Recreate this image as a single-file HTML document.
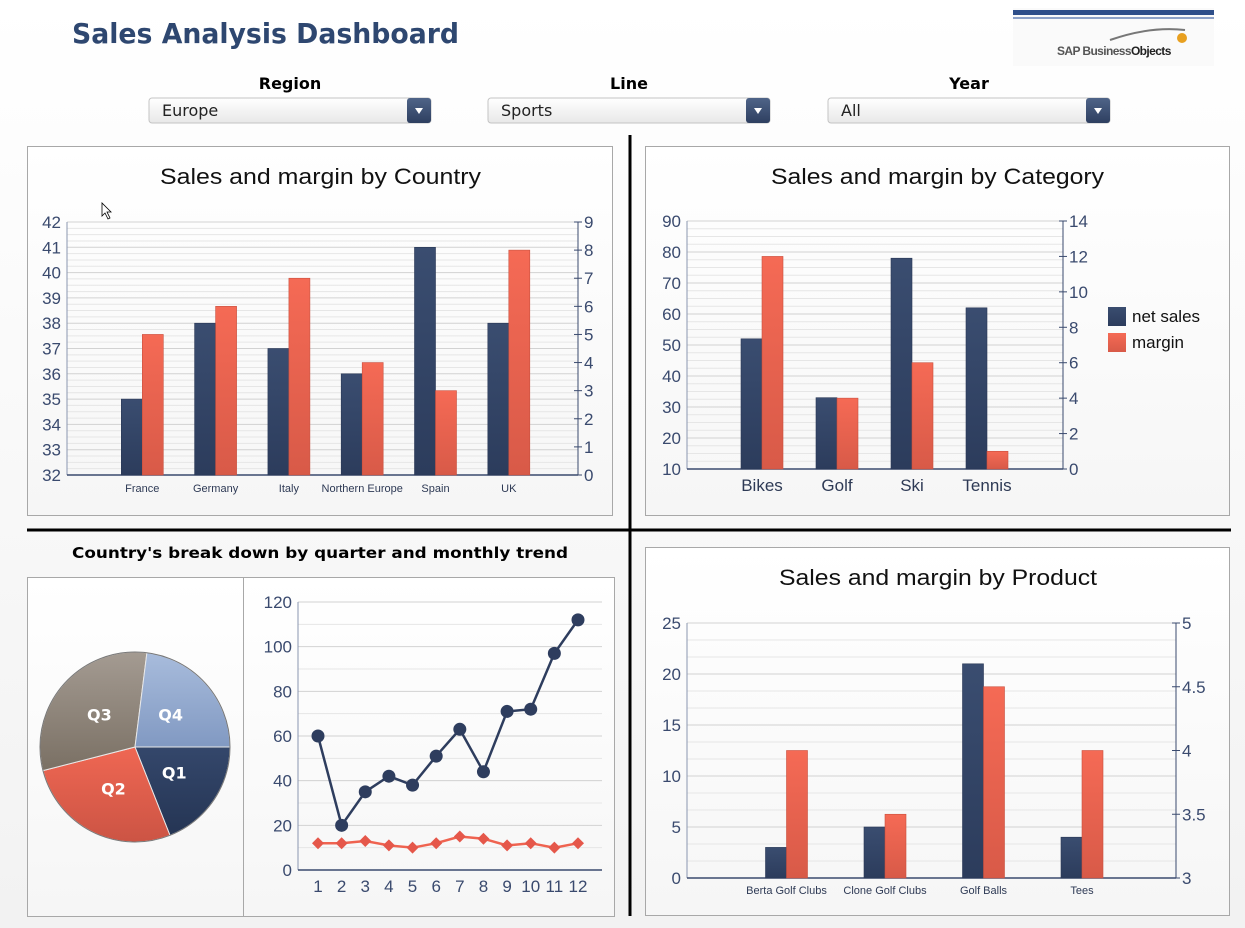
<!DOCTYPE html>
<html><head><meta charset="utf-8">
<style>
html,body{margin:0;padding:0;width:1245px;height:928px;overflow:hidden;background:#f5f5f5;}
svg{display:block;font-family:"Liberation Sans","DejaVu Sans",sans-serif;}
</style></head>
<body>
<svg id="dash" width="1245" height="928" viewBox="0 0 1245 928">
<defs>
<linearGradient id="bg" x1="0" y1="0" x2="0" y2="1"><stop offset="0" stop-color="#ffffff"/><stop offset="1" stop-color="#f2f2f2"/></linearGradient>
<linearGradient id="panel" x1="0" y1="0" x2="0" y2="1"><stop offset="0" stop-color="#ffffff"/><stop offset="1" stop-color="#f6f6f6"/></linearGradient>
<linearGradient id="navy" x1="0" y1="0" x2="0" y2="1"><stop offset="0" stop-color="#3a4d70"/><stop offset="1" stop-color="#2c3c5c"/></linearGradient>
<linearGradient id="red" x1="0" y1="0" x2="0" y2="1"><stop offset="0" stop-color="#f56a55"/><stop offset="1" stop-color="#d85a48"/></linearGradient>
<linearGradient id="dd" x1="0" y1="0" x2="0" y2="1"><stop offset="0" stop-color="#ffffff"/><stop offset="1" stop-color="#e8e8e8"/></linearGradient>
<linearGradient id="ddb" x1="0" y1="0" x2="0" y2="1"><stop offset="0" stop-color="#4f6488"/><stop offset="1" stop-color="#2e3f60"/></linearGradient>
<linearGradient id="pq1" x1="0" y1="0" x2="0" y2="1"><stop offset="0" stop-color="#34476b"/><stop offset="1" stop-color="#253554"/></linearGradient>
<linearGradient id="pq2" x1="0" y1="0" x2="0" y2="1"><stop offset="0" stop-color="#ef6753"/><stop offset="1" stop-color="#cc5444"/></linearGradient>
<linearGradient id="pq3" x1="0" y1="0" x2="0" y2="1"><stop offset="0" stop-color="#a49b92"/><stop offset="1" stop-color="#7a7064"/></linearGradient>
<linearGradient id="pq4" x1="0" y1="0" x2="0" y2="1"><stop offset="0" stop-color="#a8bcdc"/><stop offset="1" stop-color="#8199c2"/></linearGradient>
</defs>
<rect x="0" y="0" width="1245" height="928" fill="url(#bg)"/>
<text x="72" y="43" font-size="28" font-weight="bold" fill="#2e4770" textLength="387" lengthAdjust="spacingAndGlyphs" style="font-family:'DejaVu Sans',sans-serif">Sales Analysis Dashboard</text>
<g>
<rect x="1013" y="8" width="201" height="58" fill="#fafafa"/>
<rect x="1013" y="10" width="201" height="5" fill="#2f4f8a"/>
<rect x="1013" y="17" width="201" height="2" fill="#8ea2c8"/>
<path d="M1110 40 Q1150 26 1185 30" stroke="#777" stroke-width="2" fill="none"/>
<circle cx="1182" cy="38" r="5" fill="#e8a020"/>
<text x="1057" y="55" font-size="12" font-weight="bold" fill="#555" letter-spacing="-0.6">SAP Business<tspan fill="#222">Objects</tspan></text>
</g>
<g id="filters"></g>
<g id="panels"></g>
<line x1="630" y1="135" x2="630" y2="916" stroke="#000" stroke-width="3"/>
<line x1="27" y1="530" x2="1231" y2="530" stroke="#000" stroke-width="3"/>
<text x="72" y="558" font-size="15" font-weight="bold" fill="#000" textLength="496" lengthAdjust="spacingAndGlyphs" style="font-family:'DejaVu Sans',sans-serif">Country's break down by quarter and monthly trend</text>
<g id="c1"></g><g id="c2"></g><g id="c3"></g><g id="pie"></g><g id="line"></g>
<path d="M102 203 L102 216 L105 213 L108 219 L110 218 L107 212 L111 212 Z" fill="#fff" stroke="#000" stroke-width="0.8"/>
</svg>
<script>
// ===== DATA =====
const countryCats = ["France","Germany","Italy","Northern Europe","Spain","UK"];
const countrySales = [35,38,37,36,41,38];
const countryMargin = [5,6,7,4,3,8];
const countryLeftTicks = [32,33,34,35,36,37,38,39,40,41,42];
const countryRightTicks = [0,1,2,3,4,5,6,7,8,9];

const categoryCats = ["Bikes","Golf","Ski","Tennis"];
const categorySales = [52,33,78,62];
const categoryMargin = [12,4,6,1];
const categoryLeftTicks = [10,20,30,40,50,60,70,80,90];
const categoryRightTicks = [0,2,4,6,8,10,12,14];

const productCats = ["Berta Golf Clubs","Clone Golf Clubs","Golf Balls","Tees"];
const productSales = [3,5,21,4];
const productMargin = [4,3.5,4.5,4];
const productLeftTicks = [0,5,10,15,20,25];
const productRightTicks = [3,3.5,4,4.5,5];

const quarterLabels = ["Q1","Q2","Q3","Q4"];
const quarterValues = [19,27,31,23];

const months = [1,2,3,4,5,6,7,8,9,10,11,12];
const monthlySales = [60,20,35,42,38,51,63,44,71,72,97,112];
const monthlyMargin = [12,12,13,11,10,12,15,14,11,12,10,12];
const monthlyTicks = [0,20,40,60,80,100,120];

// ===== HELPERS =====
const NS="http://www.w3.org/2000/svg";
function mk(parent,tag,attrs,text){const e=document.createElementNS(NS,tag);for(const k in attrs)e.setAttribute(k,attrs[k]);if(text!==undefined)e.textContent=text;parent.appendChild(e);return e;}
const AX="#3a4a6e";

// filters
const filters=[{label:"Region",value:"Europe",x:149},{label:"Line",value:"Sports",x:488},{label:"Year",value:"All",x:828}];
const fg=document.getElementById('filters');
filters.forEach(f=>{
  const g=mk(fg,'g',{});
  
  
  const l=mk(g,'text',{x:f.x+141,y:89,'font-size':16,'font-weight':'bold','text-anchor':'middle',fill:'#000',style:"font-family:'DejaVu Sans',sans-serif"},f.label);
  
  
  mk(g,'rect',{x:f.x,y:98,width:282,height:25,rx:3,fill:'url(#dd)',stroke:'#c4c4c4'});
  mk(g,'text',{x:f.x+13,y:116,'font-size':16,fill:'#222',style:"font-family:'DejaVu Sans',sans-serif"},f.value);
  const b=mk(g,'rect',{x:f.x+258,y:98,width:24,height:25,rx:3,fill:'url(#ddb)'});
  
  
  mk(g,'path',{d:`M${f.x+266} ${108} L${f.x+274} 108 L${f.x+270} 114 Z`,fill:'#fff'});
});

// panels
const pg=document.getElementById('panels');
[[27,146,585,369,'country-panel'],[645,146,584,369,'category-panel'],[645,547,584,368,'product-panel'],[27,577,216,339,'pie-panel'],[243,577,371,339,'trend-panel']].forEach(p=>{
  const r=mk(pg,'rect',{x:p[0]+0.5,y:p[1]+0.5,width:p[2],height:p[3],fill:'url(#panel)',stroke:'#a8a8a8'});
  
  
});

function barChart(gid,o){
  const g=document.getElementById(gid);
  const yL=v=>o.bottom-(v-o.lmin)/(o.lmax-o.lmin)*(o.bottom-o.top);
  const yR=v=>o.bottom-(v-o.rmin)/(o.rmax-o.rmin)*(o.bottom-o.top);
  const xC=i=>o.x0+(i+1)*o.step;
  const t=mk(g,'text',{x:o.titleX,y:o.titleY,'font-size':22,fill:'#111',textLength:o.titleW,lengthAdjust:'spacingAndGlyphs'},o.title);
  
  
  const nL=o.lt.length-1;
  for(let k=0;k<nL*o.sub;k++){
    const v=o.lmin+(o.lmax-o.lmin)*k/(nL*o.sub);
    mk(g,'line',{x1:o.left,x2:o.right,y1:yL(v),y2:yL(v),stroke:k%o.sub==0?'#d2d2d2':'#e6e6e6','stroke-width':1});
  }
  mk(g,'line',{x1:o.left,x2:o.right,y1:o.top,y2:o.top,stroke:'#d2d2d2'});
  mk(g,'line',{x1:o.left,x2:o.left,y1:o.top,y2:o.bottom,stroke:'#8a96b0'});
  o.lt.forEach(v=>{const e=mk(g,'text',{x:o.left-6,y:yL(v)+6,'font-size':o.tfs,'text-anchor':'end',fill:AX},v);
    
    });
  mk(g,'line',{x1:o.right,x2:o.right,y1:o.top,y2:o.bottom,stroke:AX});
  o.rt.forEach(v=>{mk(g,'line',{x1:o.right-4,x2:o.right+4,y1:yR(v),y2:yR(v),stroke:AX});
    const e=mk(g,'text',{x:o.right+6,y:yR(v)+6,'font-size':o.tfs,fill:AX},v);
    
    });
  mk(g,'line',{x1:o.left,x2:o.right,y1:o.bottom,y2:o.bottom,stroke:AX,'stroke-width':1.5});
  o.cats.forEach((c,i)=>{
    const cx=xC(i);
    const b1=mk(g,'rect',{x:cx-o.bw,y:yL(o.s[i]),width:o.bw,height:o.bottom-yL(o.s[i]),fill:'url(#navy)',stroke:'#2a3856','stroke-width':0.6});
    
    
    const b2=mk(g,'rect',{x:cx,y:yR(o.m[i]),width:o.bw,height:o.bottom-yR(o.m[i]),fill:'url(#red)',stroke:'#c9503f','stroke-width':0.6});
    
    
    const l=mk(g,'text',{x:cx,y:o.bottom+o.cdy,'font-size':o.cfs,'text-anchor':'middle',fill:'#2e3a55'},c);
    
    
  });
}
barChart('c1',{title:"Sales and margin by Country",titleX:160,titleW:321,titleY:184,left:67,right:578,top:222,bottom:475,
  lmin:32,lmax:42,rmin:0,rmax:9,lt:countryLeftTicks,rt:countryRightTicks,sub:4,x0:69,step:73.3,bw:21,
  cats:countryCats,s:countrySales,m:countryMargin,tfs:17,cfs:11,cdy:17});
barChart('c2',{title:"Sales and margin by Category",titleX:771,titleW:333,titleY:184,left:687,right:1063,top:221,bottom:469,
  lmin:10,lmax:90,rmin:0,rmax:14,lt:categoryLeftTicks,rt:categoryRightTicks,sub:4,x0:687,step:75,bw:21,
  cats:categoryCats,s:categorySales,m:categoryMargin,tfs:17,cfs:17,cdy:22});
barChart('c3',{title:"Sales and margin by Product",titleX:779,titleW:318,titleY:585,left:687,right:1176,top:623,bottom:878,
  lmin:0,lmax:25,rmin:3,rmax:5,lt:productLeftTicks,rt:productRightTicks,sub:3,x0:688,step:98.5,bw:21,
  cats:productCats,s:productSales,m:productMargin,tfs:17,cfs:11,cdy:16});

const lg=document.getElementById('c2');
[["net sales","url(#navy)"],["margin","url(#red)"]].forEach((e,i)=>{
  const g=mk(lg,'g',{});
  
  
  mk(g,'rect',{x:1108,y:307+i*26,width:18,height:19,fill:e[1]});
  mk(g,'text',{x:1132,y:322+i*26,'font-size':17,fill:'#111'},e[0]);
});

// pie
const pgp=document.getElementById('pie');
const pcx=135,pcy=747,pr=95,total=quarterValues.reduce((a,b)=>a+b,0);
let a0=0;
const fills=['url(#pq1)','url(#pq2)','url(#pq3)','url(#pq4)'];
quarterValues.forEach((v,i)=>{
  const a1=a0+v/total*2*Math.PI;
  const x0=pcx+pr*Math.cos(a0),y0=pcy+pr*Math.sin(a0),x1=pcx+pr*Math.cos(a1),y1=pcy+pr*Math.sin(a1);
  const s=mk(pgp,'path',{d:`M${pcx} ${pcy} L${x0} ${y0} A${pr} ${pr} 0 ${a1-a0>Math.PI?1:0} 1 ${x1} ${y1} Z`,fill:fills[i],stroke:'#e8e8e8','stroke-width':1});
  
  
  const am=(a0+a1)/2;
  const t=mk(pgp,'text',{x:pcx+pr*0.5*Math.cos(am),y:pcy+pr*0.5*Math.sin(am)+5,'font-size':16,'font-weight':'bold','text-anchor':'middle',fill:'#fff',style:"font-family:'DejaVu Sans',sans-serif"},quarterLabels[i]);
  
  
  a0=a1;
});
mk(pgp,'circle',{cx:pcx,cy:pcy,r:pr,fill:'none',stroke:'#777','stroke-width':1});

// line chart
const lgp=document.getElementById('line');
const Lleft=298,Lright=602,Ltop=602,Lbot=870;
const ly=v=>Lbot-v/120*(Lbot-Ltop);
const lx=i=>318+(i)*(578-318)/11;
for(let k=0;k<12;k++){const v=k*10;mk(lgp,'line',{x1:Lleft,x2:Lright,y1:ly(v),y2:ly(v),stroke:k%2==0?'#d2d2d2':'#e6e6e6'});}
mk(lgp,'line',{x1:Lleft,x2:Lright,y1:ly(120),y2:ly(120),stroke:'#d2d2d2'});
mk(lgp,'line',{x1:Lleft,x2:Lleft,y1:Ltop,y2:Lbot,stroke:'#8a96b0'});
mk(lgp,'line',{x1:Lleft,x2:Lright,y1:Lbot,y2:Lbot,stroke:AX,'stroke-width':1.5});
monthlyTicks.forEach(v=>{const e=mk(lgp,'text',{x:Lleft-6,y:ly(v)+6,'font-size':17,'text-anchor':'end',fill:AX},v);
  
  });
months.forEach((m,i)=>{const e=mk(lgp,'text',{x:lx(i),y:892,'font-size':17,'text-anchor':'middle',fill:AX},m);
  
  });
const sl=mk(lgp,'polyline',{points:monthlySales.map((v,i)=>lx(i)+','+ly(v)).join(' '),fill:'none',stroke:'#2e3d5e','stroke-width':2.5});


const ml=mk(lgp,'polyline',{points:monthlyMargin.map((v,i)=>lx(i)+','+ly(v)).join(' '),fill:'none',stroke:'#ef6350','stroke-width':2.5});


monthlySales.forEach((v,i)=>{const c=mk(lgp,'circle',{cx:lx(i),cy:ly(v),r:6.5,fill:'#2e3d5e'});
  
  });
monthlyMargin.forEach((v,i)=>{const x=lx(i),y=ly(v);const c=mk(lgp,'path',{d:`M${x} ${y-6} L${x+6} ${y} L${x} ${y+6} L${x-6} ${y} Z`,fill:'#e5574a'});
  
  });
</script>
</body></html>
